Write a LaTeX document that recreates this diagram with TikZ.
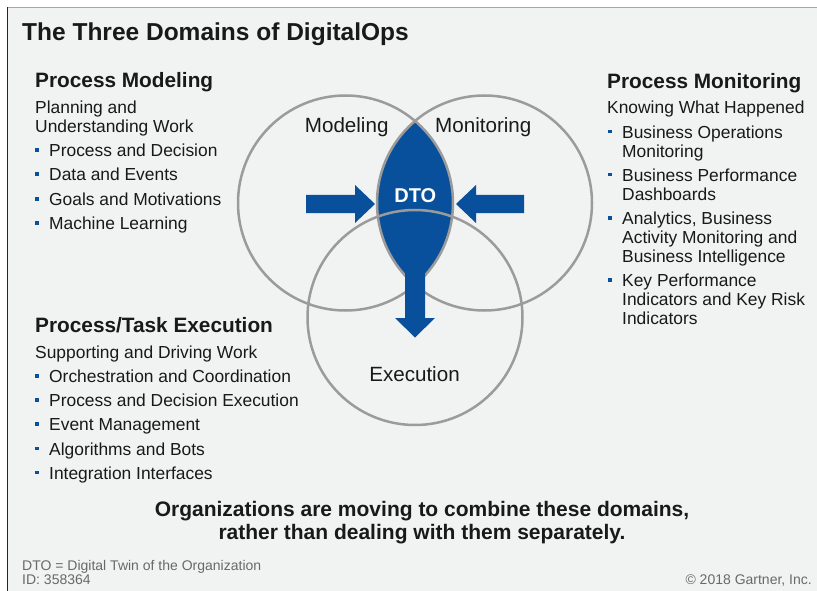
\documentclass[tikz,border=0pt]{standalone}
\usepackage{fontspec}
\setmainfont{Liberation Sans}
\usetikzlibrary{positioning}

\definecolor{dtoblue}{RGB}{8,80,155}
\definecolor{ringgray}{RGB}{155,155,155}
\definecolor{panelgray}{RGB}{241,242,242}
\definecolor{notegray}{RGB}{105,105,105}
\definecolor{inkblack}{RGB}{25,25,25}

\tikzset{
  titletext/.style={anchor=base west, inner sep=0pt, font=\fontsize{24.5}{28}\selectfont\bfseries, text=inkblack},
  heading/.style={anchor=base west, inner sep=0pt, font=\fontsize{20.8}{24}\selectfont\bfseries, text=inkblack},
  body/.style={anchor=base west, inner sep=0pt, font=\fontsize{17.4}{20}\selectfont, text=inkblack},
  ring/.style={circle, draw=ringgray, line width=2.5pt, minimum size=215pt, inner sep=0pt},
  ringlabel/.style={anchor=base, inner sep=0pt, font=\fontsize{20.6}{24}\selectfont, text=inkblack},
  claim/.style={anchor=base, inner sep=0pt, font=\fontsize{21}{24}\selectfont\bfseries, text=inkblack},
  note/.style={inner sep=0pt, font=\fontsize{14}{16}\selectfont, text=notegray},
}

\begin{document}
\begin{tikzpicture}[x=1pt,y=-1pt]
  \useasboundingbox (0,0) rectangle (817,591);
  \fill[white] (0,0) rectangle (817,591);
  \fill[panelgray] (8,7.5) rectangle (817,591);
  \draw[gray!70, line width=1pt] (8,7.5) -- (817,7.5);
  \draw[black!85, line width=1.4pt] (7.5,7) -- (7.5,591);

  \node[titletext] (ttl) at (22,41) {The Three Domains of DigitalOps};

  \node[heading] (pm) at (35,87.7) {Process Modeling};
  \node[body] (pm1) at (35,113.3) {Planning and};
  \node[body] (pm2) at (35,132.7) {Understanding Work};
  \foreach \txt/\y [count=\i] in {Process and Decision/156.7, Data and Events/181, Goals and Motivations/205.4, Machine Learning/229.8}{
    \fill[dtoblue] (35,\y-8.5) rectangle (38.6,\y-4.9);
    \node[body] (pmi\i) at (49,\y) {\txt};
  }

  \node[heading] (mo) at (607,88.3) {Process Monitoring};
  \node[body] (mo1) at (607,114) {Knowing What Happened};
  \foreach \txt/\y/\b [count=\i] in {Business Operations/138.3/1, Monitoring/157.3/0,
      Business Performance/181.4/1, Dashboards/200.4/0,
      {Analytics, Business}/224.8/1, Activity Monitoring and/243.8/0, Business Intelligence/262.8/0,
      Key Performance/286.9/1, Indicators and Key Risk/305.9/0, Indicators/324.9/0}{
    \ifnum\b=1 \fill[dtoblue] (608.3,\y-8.5) rectangle (611.9,\y-4.9); \fi
    \node[body] (moi\i) at (622,\y) {\txt};
  }

  \node[heading] (ex) at (35,332.7) {Process/Task Execution};
  \node[body] (ex1) at (35,358.3) {Supporting and Driving Work};
  \foreach \txt/\y [count=\i] in {Orchestration and Coordination/382.7, Process and Decision Execution/406.8,
      Event Management/430.9, Algorithms and Bots/455, Integration Interfaces/479.2}{
    \fill[dtoblue] (35,\y-8.5) rectangle (38.6,\y-4.9);
    \node[body] (exi\i) at (49,\y) {\txt};
  }

  \begin{scope}
    \clip (345.5,203) circle (107.5pt);
    \fill[dtoblue] (484.5,203) circle (107.5pt);
  \end{scope}

  \node[ring] (modeling) at (345.5,203) {};
  \node[ring] (monitoring) at (484.5,203) {};
  \node[ring] (execution) at (415,317.5) {};

  \fill[dtoblue] (405,262) -- (425,262) -- (425,318) -- (435,318) -- (415,337.5) -- (395,318) -- (405,318) -- cycle;
  \fill[dtoblue] (306,195) -- (355,195) -- (355,185) -- (375,204) -- (355,223) -- (355,213) -- (306,213) -- cycle;
  \fill[dtoblue] (524,195) -- (476,195) -- (476,185) -- (456,204) -- (476,223) -- (476,213) -- (524,213) -- cycle;

  \node[ringlabel] (lmod) at (346.7,132.7) {Modeling};
  \node[ringlabel] (lmon) at (483.3,132.7) {Monitoring};
  \node[ringlabel] (lexe) at (414.5,381) {Execution};
  \node[anchor=base, inner sep=0pt, font=\fontsize{20}{24}\selectfont\bfseries, text=white] (dto) at (415.3,202.7) {DTO};

  \node[claim] (cl1) at (422,516) {Organizations are moving to combine these domains,};
  \node[claim] (cl2) at (422,539) {rather than dealing with them separately.};

  \node[note, anchor=base west] (fn1) at (22,570) {DTO = Digital Twin of the Organization};
  \node[note, anchor=base west] (fn2) at (22,584) {ID: 358364};
  \node[note, anchor=base east] (cpy) at (812,584) {© 2018 Gartner, Inc.};
\end{tikzpicture}
\end{document}
